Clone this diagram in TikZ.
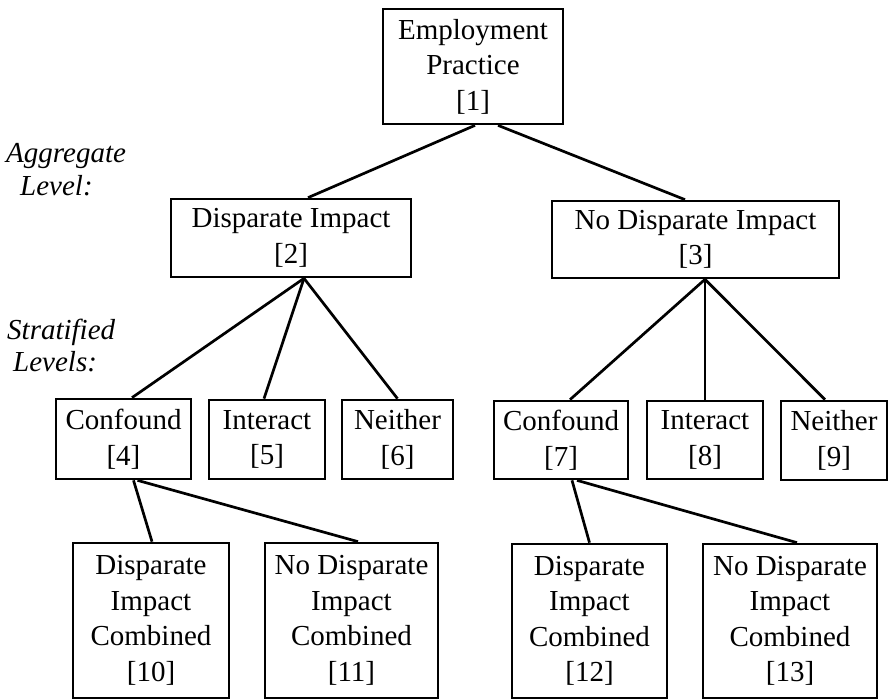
\documentclass[tikz,border=0pt]{standalone}
\usepackage{fontspec}
\setmainfont{Liberation Serif}
\begin{document}
\begin{tikzpicture}[x=1pt,y=-1pt,
  box/.style={draw, line width=2.7pt, inner sep=0pt, align=center,
              font=\fontsize{29}{35.5}\selectfont},
  conn/.style={line width=2.7pt},
  lbl/.style={anchor=base west, inner sep=0pt, font=\fontsize{29}{33}\selectfont\itshape}]
\useasboundingbox (0,0) rectangle (892,699);

% level 1
\node[box, minimum width=180pt, minimum height=115pt] (n1) at (473,66.5) {Employment\\Practice\\{[1]}};
% level 2
\node[box, minimum width=240pt, minimum height=78pt] (n2) at (291,238) {Disparate Impact\\{[2]}};
\node[box, minimum width=287pt, minimum height=77pt] (n3) at (695.5,239.5) {No Disparate Impact\\{[3]}};
% level 3
\node[box, minimum width=135pt, minimum height=80pt] (n4) at (123.5,439) {Confound\\{[4]}};
\node[box, minimum width=116pt, minimum height=79pt] (n5) at (267,439.5) {Interact\\{[5]}};
\node[box, minimum width=111pt, minimum height=79pt] (n6) at (397.5,439.5) {Neither\\{[6]}};
\node[box, minimum width=134pt, minimum height=78pt] (n7) at (561,440) {Confound\\{[7]}};
\node[box, minimum width=116pt, minimum height=78pt] (n8) at (705,440) {Interact\\{[8]}};
\node[box, minimum width=106pt, minimum height=79pt] (n9) at (834,440.5) {Neither\\{[9]}};
% level 4
\node[box, minimum width=156pt, minimum height=155pt] (n10) at (151,620.5) {Disparate\\Impact\\Combined\\{[10]}};
\node[box, minimum width=173pt, minimum height=155pt] (n11) at (351.5,620.5) {No Disparate\\Impact\\Combined\\{[11]}};
\node[box, minimum width=155pt, minimum height=154pt] (n12) at (589.5,621) {Disparate\\Impact\\Combined\\{[12]}};
\node[box, minimum width=174pt, minimum height=154pt] (n13) at (790,621) {No Disparate\\Impact\\Combined\\{[13]}};

% labels
\node[lbl] (agg1) at (6,162) {Aggregate};
\node[lbl] (agg2) at (20,195) {Level:};
\node[lbl] (str1) at (7,339) {Stratified};
\node[lbl] (str2) at (13,371) {Levels:};

% connectors
\draw[conn] ([xshift=2pt]n1.south) -- ([xshift=17pt]n2.north);
\draw[conn] ([xshift=25pt]n1.south) -- ([xshift=-10.5pt]n3.north);
\draw[conn] ([xshift=13pt]n2.south) -- ([xshift=8.5pt]n4.north);
\draw[conn] ([xshift=13pt]n2.south) -- ([xshift=-3pt]n5.north);
\draw[conn] ([xshift=13pt]n2.south) -- (n6.north);
\draw[conn] ([xshift=9.5pt]n3.south) -- ([xshift=9pt]n7.north);
\draw[conn] ([xshift=9.5pt]n3.south) -- (n8.north);
\draw[conn] ([xshift=9.5pt]n3.south) -- ([xshift=-9pt]n9.north);
\draw[conn] ([xshift=10pt]n4.south) -- ([xshift=1pt]n10.north);
\draw[conn] ([xshift=14pt]n4.south) -- ([xshift=6.5pt]n11.north);
\draw[conn] ([xshift=11pt]n7.south) -- (n12.north);
\draw[conn] ([xshift=16pt]n7.south) -- ([xshift=7pt]n13.north);
\end{tikzpicture}
\end{document}
